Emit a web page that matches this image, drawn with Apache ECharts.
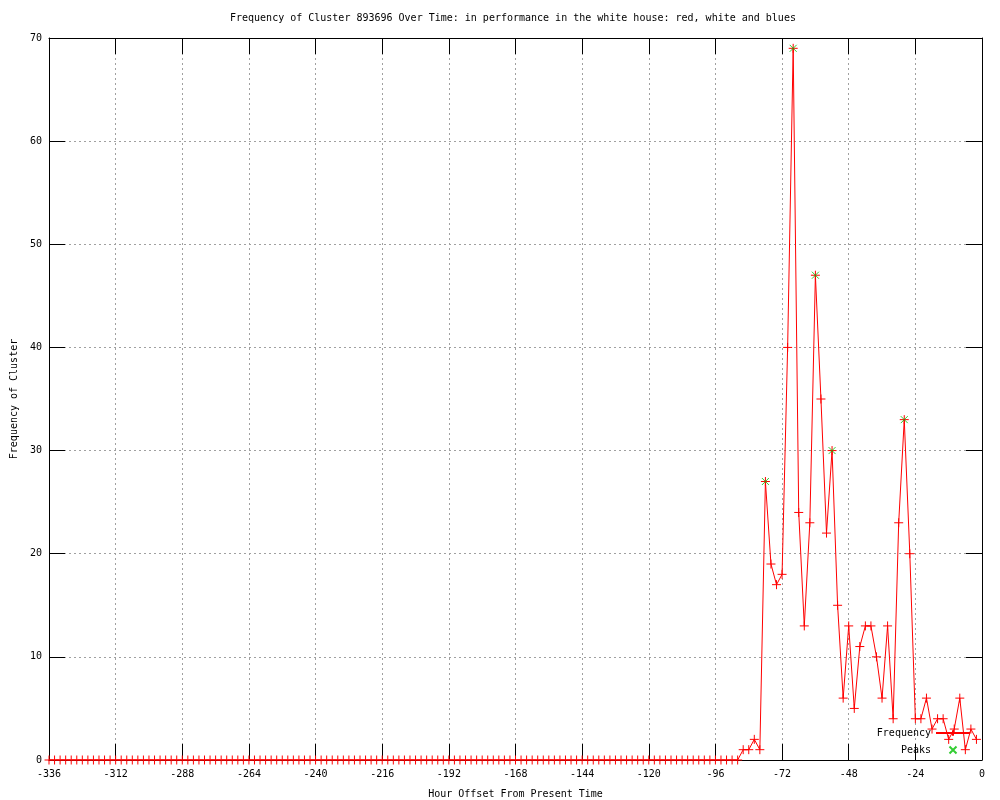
<!DOCTYPE html>
<html>
<head>
<meta charset="utf-8">
<script src="https://cdn.jsdelivr.net/npm/echarts@6/dist/echarts.min.js"></script>
<style>
html,body{margin:0;padding:0;background:#fff;}
#chart{width:1000px;height:800px;}
</style>
</head>
<body>
<div id="chart"></div>
<script>
const titleText = 'Frequency of Cluster 893696 Over Time: in performance in the white house: red, white and blues';
const xAxisName = 'Hour Offset From Present Time';
const yAxisName = 'Frequency of Cluster';

const hours = [
-336,-334,-332,-330,-328,-326,-324,-322,-320,-318,-316,-314,
-312,-310,-308,-306,-304,-302,-300,-298,-296,-294,-292,-290,
-288,-286,-284,-282,-280,-278,-276,-274,-272,-270,-268,-266,
-264,-262,-260,-258,-256,-254,-252,-250,-248,-246,-244,-242,
-240,-238,-236,-234,-232,-230,-228,-226,-224,-222,-220,-218,
-216,-214,-212,-210,-208,-206,-204,-202,-200,-198,-196,-194,
-192,-190,-188,-186,-184,-182,-180,-178,-176,-174,-172,-170,
-168,-166,-164,-162,-160,-158,-156,-154,-152,-150,-148,-146,
-144,-142,-140,-138,-136,-134,-132,-130,-128,-126,-124,-122,
-120,-118,-116,-114,-112,-110,-108,-106,-104,-102,-100,-98,
-96,-94,-92,-90,-88,-86,-84,-82,-80,-78,-76,-74,
-72,-70,-68,-66,-64,-62,-60,-58,-56,-54,-52,-50,
-48,-46,-44,-42,-40,-38,-36,-34,-32,-30,-28,-26,
-24,-22,-20,-18,-16,-14,-12,-10,-8,-6,-4,-2
];

const frequency = [
0,0,0,0,0,0,0,0,0,0,0,0,
0,0,0,0,0,0,0,0,0,0,0,0,
0,0,0,0,0,0,0,0,0,0,0,0,
0,0,0,0,0,0,0,0,0,0,0,0,
0,0,0,0,0,0,0,0,0,0,0,0,
0,0,0,0,0,0,0,0,0,0,0,0,
0,0,0,0,0,0,0,0,0,0,0,0,
0,0,0,0,0,0,0,0,0,0,0,0,
0,0,0,0,0,0,0,0,0,0,0,0,
0,0,0,0,0,0,0,0,0,0,0,0,
0,0,0,0,0,1,1,2,1,27,19,17,
18,40,69,24,13,23,47,35,22,30,15,6,
13,5,11,13,13,10,6,13,4,23,33,20,
4,4,6,3,4,4,2,3,6,1,3,2
];

const peakHours = [-78, -68, -60, -54, -28];
const peakValues = [27, 69, 47, 30, 33];

const xTicks = { min: -336, max: 0, interval: 24 };
const yTicks = { min: 0, max: 70, interval: 10 };

const freqData = hours.map((h, i) => [h, frequency[i]]);
const peakData = peakHours.map((h, i) => [h, peakValues[i]]);

const FONT = 'DejaVu Sans Mono';
const txt = { fontFamily: FONT, fontSize: 10, color: '#000' };
const axisLine = { show: true, onZero: false, lineStyle: { color: '#000', width: 1 } };
const tick = { show: true, inside: true, length: 16, lineStyle: { color: '#000', width: 1 } };
const grid = { show: true, lineStyle: { color: '#a0a0a0', width: 1, type: [2, 3] } };

const chart = echarts.init(document.getElementById('chart'), null, { renderer: 'canvas' });
chart.setOption({
  animation: false,
  backgroundColor: '#fff',
  title: {
    text: titleText,
    left: 230, top: 13, padding: 0,
    textStyle: { fontFamily: FONT, fontSize: 10, fontWeight: 'normal', color: '#000' }
  },
  grid: { left: 49, right: 18, top: 38, bottom: 40, containLabel: false, outerBoundsMode: 'none' },
  legend: {
    orient: 'vertical',
    right: 29, top: 728, padding: 0,
    align: 'right',
    itemWidth: 34, itemHeight: 7, itemGap: 7,
    textStyle: txt,
    data: ['Frequency', 'Peaks']
  },
  xAxis: [{
    type: 'value', position: 'bottom',
    min: xTicks.min, max: xTicks.max, interval: xTicks.interval,
    name: xAxisName, nameLocation: 'middle', nameGap: 29, nameTextStyle: txt,
    axisLine: axisLine, axisTick: tick,
    axisLabel: Object.assign({ margin: 9 }, txt),
    splitLine: grid
  }, {
    type: 'value', position: 'top',
    min: xTicks.min, max: xTicks.max, interval: xTicks.interval,
    axisLine: axisLine, axisTick: tick,
    axisLabel: { show: false }, splitLine: { show: false }
  }],
  yAxis: [{
    type: 'value', position: 'left',
    min: yTicks.min, max: yTicks.max, interval: yTicks.interval,
    name: yAxisName, nameLocation: 'middle', nameGap: 30, nameRotate: 90, nameTextStyle: txt,
    axisLine: axisLine, axisTick: tick,
    axisLabel: Object.assign({ margin: 7 }, txt),
    splitLine: grid
  }, {
    type: 'value', position: 'right',
    min: yTicks.min, max: yTicks.max, interval: yTicks.interval,
    axisLine: axisLine, axisTick: tick,
    axisLabel: { show: false }, splitLine: { show: false }
  }],
  series: [{
    name: 'Frequency',
    type: 'line',
    data: freqData,
    xAxisIndex: 0, yAxisIndex: 0,
    symbol: 'path://M0,5L10,5M5,0L5,10',
    symbolSize: 9,
    showAllSymbol: true,
    lineStyle: { color: '#ff0000', width: 1 },
    itemStyle: { color: '#ff0000', borderColor: '#ff0000', borderWidth: 1 },
    z: 2
  }, {
    name: 'Peaks',
    type: 'scatter',
    data: peakData,
    xAxisIndex: 0, yAxisIndex: 0,
    symbol: 'path://M0,0L10,10M10,0L0,10',
    symbolSize: 7,
    itemStyle: { color: '#00c000', borderColor: '#00c000', borderWidth: 1 },
    z: 3
  }]
});
</script>
</body>
</html>
